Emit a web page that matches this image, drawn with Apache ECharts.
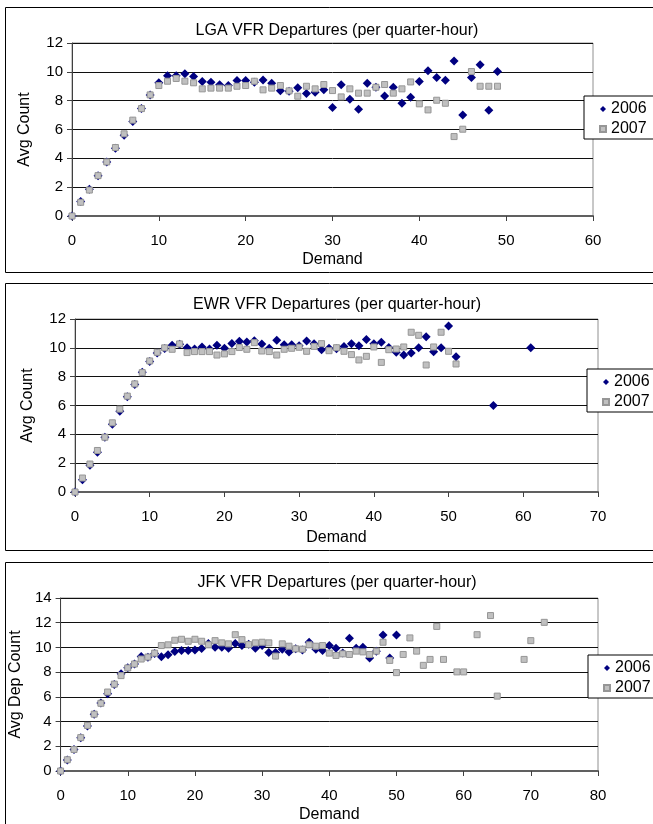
<!DOCTYPE html>
<html>
<head>
<meta charset="utf-8">
<title>VFR Departures</title>
<script src="https://cdn.jsdelivr.net/npm/echarts@6/dist/echarts.min.js"></script>
<style>
    html, body { margin: 0; padding: 0; background: #fff; }
    #chart { width: 653px; height: 824px; }
</style>
</head>
<body>
<div id="chart"></div>
<script>
// 数据：平均出发架次，按需求量(0,1,2,...)依次读取
// --- LGA ---
const lga2006 = [0, 1.0, 1.85, 2.8, 3.75, 4.7, 5.6, 6.55, 7.45, 8.4,
    9.25, 9.72, 9.72, 9.86, 9.68, 9.33, 9.28, 9.1, 9.05, 9.4,
    9.4, 9.28, 9.44, 9.2, 8.68, 8.65, 8.9, 8.5, 8.59, 8.75,
    7.52, 9.1, 8.1, 7.4, 9.2, 8.93, 8.33, 8.93, 7.82, 8.24,
    9.33, 10.07, 9.6, 9.42, 10.76, 7.0, 9.6, 10.49, 7.34, 10.02];
const lga2007 = [0, 0.95, 1.8, 2.8, 3.75, 4.75, 5.7, 6.65, 7.45, 8.4,
    9.05, 9.35, 9.54, 9.35, 9.24, 8.82, 8.87, 8.87, 8.87, 9.0,
    9.05, 9.35, 8.75, 8.87, 9.05, 8.68, 8.31, 9.0, 8.82, 9.12,
    8.7, 8.26, 8.82, 8.52, 8.52, 8.93, 9.12, 8.52, 8.82, 9.3,
    7.78, 7.36, 8.03, 7.82, 5.51, 6.02, 10.02, 9.0, 9.0, 9.0];

// --- EWR ---
const ewr2006 = [0, 0.85, 1.85, 2.75, 3.8, 4.7, 5.6, 6.6, 7.45, 8.3,
    9.05, 9.65, 9.95, 10.18, 10.25, 10.0, 9.92, 10.06, 9.92, 10.18,
    9.97, 10.3, 10.45, 10.4, 10.5, 10.27, 9.97, 10.53, 10.22, 10.22,
    10.15, 10.47, 10.29, 9.87, 9.97, 9.94, 10.1, 10.29, 10.15, 10.57,
    10.29, 10.38, 10.03, 9.69, 9.5, 9.64, 10.01, 10.77, 9.73, 10.01,
    11.51, 9.39];
const ewr2006ExtraDemand = [56, 61];
const ewr2006ExtraValue = [6.0, 10.0];
const ewr2007 = [0, 0.97, 1.94, 2.88, 3.8, 4.8, 5.75, 6.65, 7.5, 8.28,
    9.09, 9.69, 10.0, 9.9, 10.27, 9.67, 9.74, 9.74, 9.74, 9.5,
    9.58, 9.74, 10.02, 9.9, 10.36, 9.78, 9.74, 9.5, 9.9, 9.97,
    10.04, 9.76, 10.1, 10.29, 9.8, 10.01, 9.76, 9.53, 9.16, 9.41,
    10.06, 8.99, 9.87, 9.92, 10.06, 11.08, 10.87, 8.81, 10.06, 11.08,
    9.76, 8.88];

// --- JFK ---
const jfk2006 = [0, 0.9, 1.75, 2.7, 3.65, 4.6, 5.5, 6.25, 7.0, 7.88,
    8.35, 8.66, 9.27, 9.2, 9.5, 9.24, 9.4, 9.67, 9.75, 9.75,
    9.8, 9.91, 10.31, 10.02, 10.02, 9.94, 10.31, 10.15, 10.26, 9.94,
    10.15, 9.59, 9.59, 9.86, 9.62, 9.89, 9.8, 10.42, 9.86, 9.75,
    10.15, 9.94, 9.54, 10.74, 9.94, 10.02, 9.14, 9.7, 11.0, 9.14,
    11.0];
const jfk2007 = [0, 0.91, 1.74, 2.7, 3.69, 4.6, 5.48, 6.39, 7.03, 7.72,
    8.34, 8.66, 9.06, 9.22, 9.54, 10.15, 10.21, 10.58, 10.66, 10.5,
    10.66, 10.5, 10.21, 10.55, 10.37, 10.29, 11.03, 10.63, 10.23, 10.37,
    10.42, 10.37, 9.3, 10.29, 10.1, 9.89, 9.86, 10.21, 10.1, 10.15,
    9.54, 9.35, 9.48, 9.43, 9.7, 9.64, 9.43, 9.7, 10.42, 8.95,
    7.96, 9.43, 10.77, 9.7, 8.55, 9.03, 11.7, 9.03];
const jfk2007ExtraDemand = [59, 60, 62, 64, 65, 69, 70, 72];
const jfk2007ExtraValue = [8.02, 8.02, 11.03, 12.58, 6.06, 9.03, 10.55, 12.03];

const xTicks = { interval: 10 };
const yearNames = ['2006', '2007'];

// 把连续数组 + 额外点 转成 [demand, value]
function toPoints(values, extraDemand, extraValue) {
    const pts = values.map((v, i) => [i, v]);
    if (extraDemand) {
        extraDemand.forEach((d, i) => pts.push([d, extraValue[i]]));
    }
    return pts;
}

const FONT = '"Liberation Sans", Arial, sans-serif';

// 三个面板的布局
const panels = [
    {
        title: 'LGA VFR Departures (per quarter-hour)', yName: 'Avg Count',
        grid: { left: 72, top: 43, width: 521, height: 173 },
        xMax: 60, yMax: 12, yNameGap: 39, xNameGap: 36, titleTop: 18,
        legend: { left: 584, top: 96 }, frame: { y: 7.5, h: 265 },
        s2006: toPoints(lga2006), s2007: toPoints(lga2007)
    },
    {
        title: 'EWR VFR Departures (per quarter-hour)', yName: 'Avg Count',
        grid: { left: 75, top: 319, width: 523, height: 173 },
        xMax: 70, yMax: 12, yNameGap: 39, xNameGap: 38, titleTop: 292,
        legend: { left: 587, top: 369 }, frame: { y: 283.5, h: 267 },
        s2006: toPoints(ewr2006, ewr2006ExtraDemand, ewr2006ExtraValue), s2007: toPoints(ewr2007)
    },
    {
        title: 'JFK VFR Departures (per quarter-hour)', yName: 'Avg Dep Count',
        grid: { left: 58, top: 598, width: 540, height: 174 },
        xMax: 80, yMax: 14, yNameGap: 30, xNameGap: 36, titleTop: 570,
        legend: { left: 588, top: 655 }, frame: { y: 562.5, h: 300 },
        s2006: toPoints(jfk2006), s2007: toPoints(jfk2007, jfk2007ExtraDemand, jfk2007ExtraValue)
    }
];

const option = {
    animation: false,
    textStyle: { fontFamily: FONT },
    title: [], grid: [], xAxis: [], yAxis: [], legend: [], series: [], graphic: []
};

panels.forEach((p, i) => {
    option.title.push({
        text: p.title, left: 332, top: p.titleTop, textAlign: 'center',
        textStyle: { fontFamily: FONT, fontSize: 16, fontWeight: 'normal', color: '#000' }
    });
    option.grid.push({
        ...p.grid, show: true, borderColor: '#909090', borderWidth: 1, backgroundColor: '#fff'
    });
    option.xAxis.push({
        gridIndex: i, type: 'value', min: 0, max: p.xMax, interval: xTicks.interval,
        name: 'Demand', nameLocation: 'middle', nameGap: p.xNameGap,
        nameTextStyle: { fontFamily: FONT, fontSize: 16, color: '#000' },
        axisLine: { show: true, onZero: false, lineStyle: { color: '#606060', width: 2 } },
        axisTick: { show: true, inside: false, length: 5, lineStyle: { color: '#404040' } },
        axisLabel: { fontFamily: FONT, fontSize: 15, color: '#000', margin: 17 },
        splitLine: { show: false }
    });
    option.yAxis.push({
        gridIndex: i, type: 'value', min: 0, max: p.yMax, interval: 2,
        name: p.yName, nameLocation: 'middle', nameGap: p.yNameGap,
        nameTextStyle: { fontFamily: FONT, fontSize: 16, color: '#000' },
        axisLine: { show: true, lineStyle: { color: '#404040', width: 1 } },
        axisTick: { show: true, inside: false, length: 5, lineStyle: { color: '#404040' } },
        axisLabel: { fontFamily: FONT, fontSize: 15, color: '#000', margin: 9 },
        splitLine: { show: true, lineStyle: { color: '#101010', width: 1 } }
    });
    option.legend.push({
        left: p.legend.left, top: p.legend.top, orient: 'vertical',
        backgroundColor: '#fff', borderColor: '#000', borderWidth: 1,
        padding: [5, 20, 2, 15], itemGap: 4, itemWidth: 6, itemHeight: 6,
        textStyle: { fontFamily: FONT, fontSize: 16, color: '#000' },
        selectedMode: false,
        data: [{ name: yearNames[0], icon: 'diamond' }, { name: yearNames[1], icon: 'rect' }]
    });
    option.series.push({
        name: yearNames[0], type: 'scatter', xAxisIndex: i, yAxisIndex: i,
        symbol: 'diamond', symbolSize: 9, data: p.s2006,
        itemStyle: { color: '#000080', opacity: 1 }
    });
    option.series.push({
        name: yearNames[1], type: 'scatter', xAxisIndex: i, yAxisIndex: i,
        symbol: 'rect', symbolSize: 6, data: p.s2007,
        itemStyle: { color: '#c0c0c0', borderColor: '#969696', borderWidth: 1, opacity: 1 }
    });
    // 面板外框
    option.graphic.push({
        type: 'rect', silent: true, z: 100,
        shape: { x: 5.5, y: p.frame.y, width: 700, height: p.frame.h },
        style: { fill: 'none', stroke: '#000', lineWidth: 1 }
    });
});

const chart = echarts.init(document.getElementById('chart'), null, { renderer: 'canvas' });
chart.setOption(option);
window.addEventListener('resize', () => chart.resize());
</script>
</body>
</html>
